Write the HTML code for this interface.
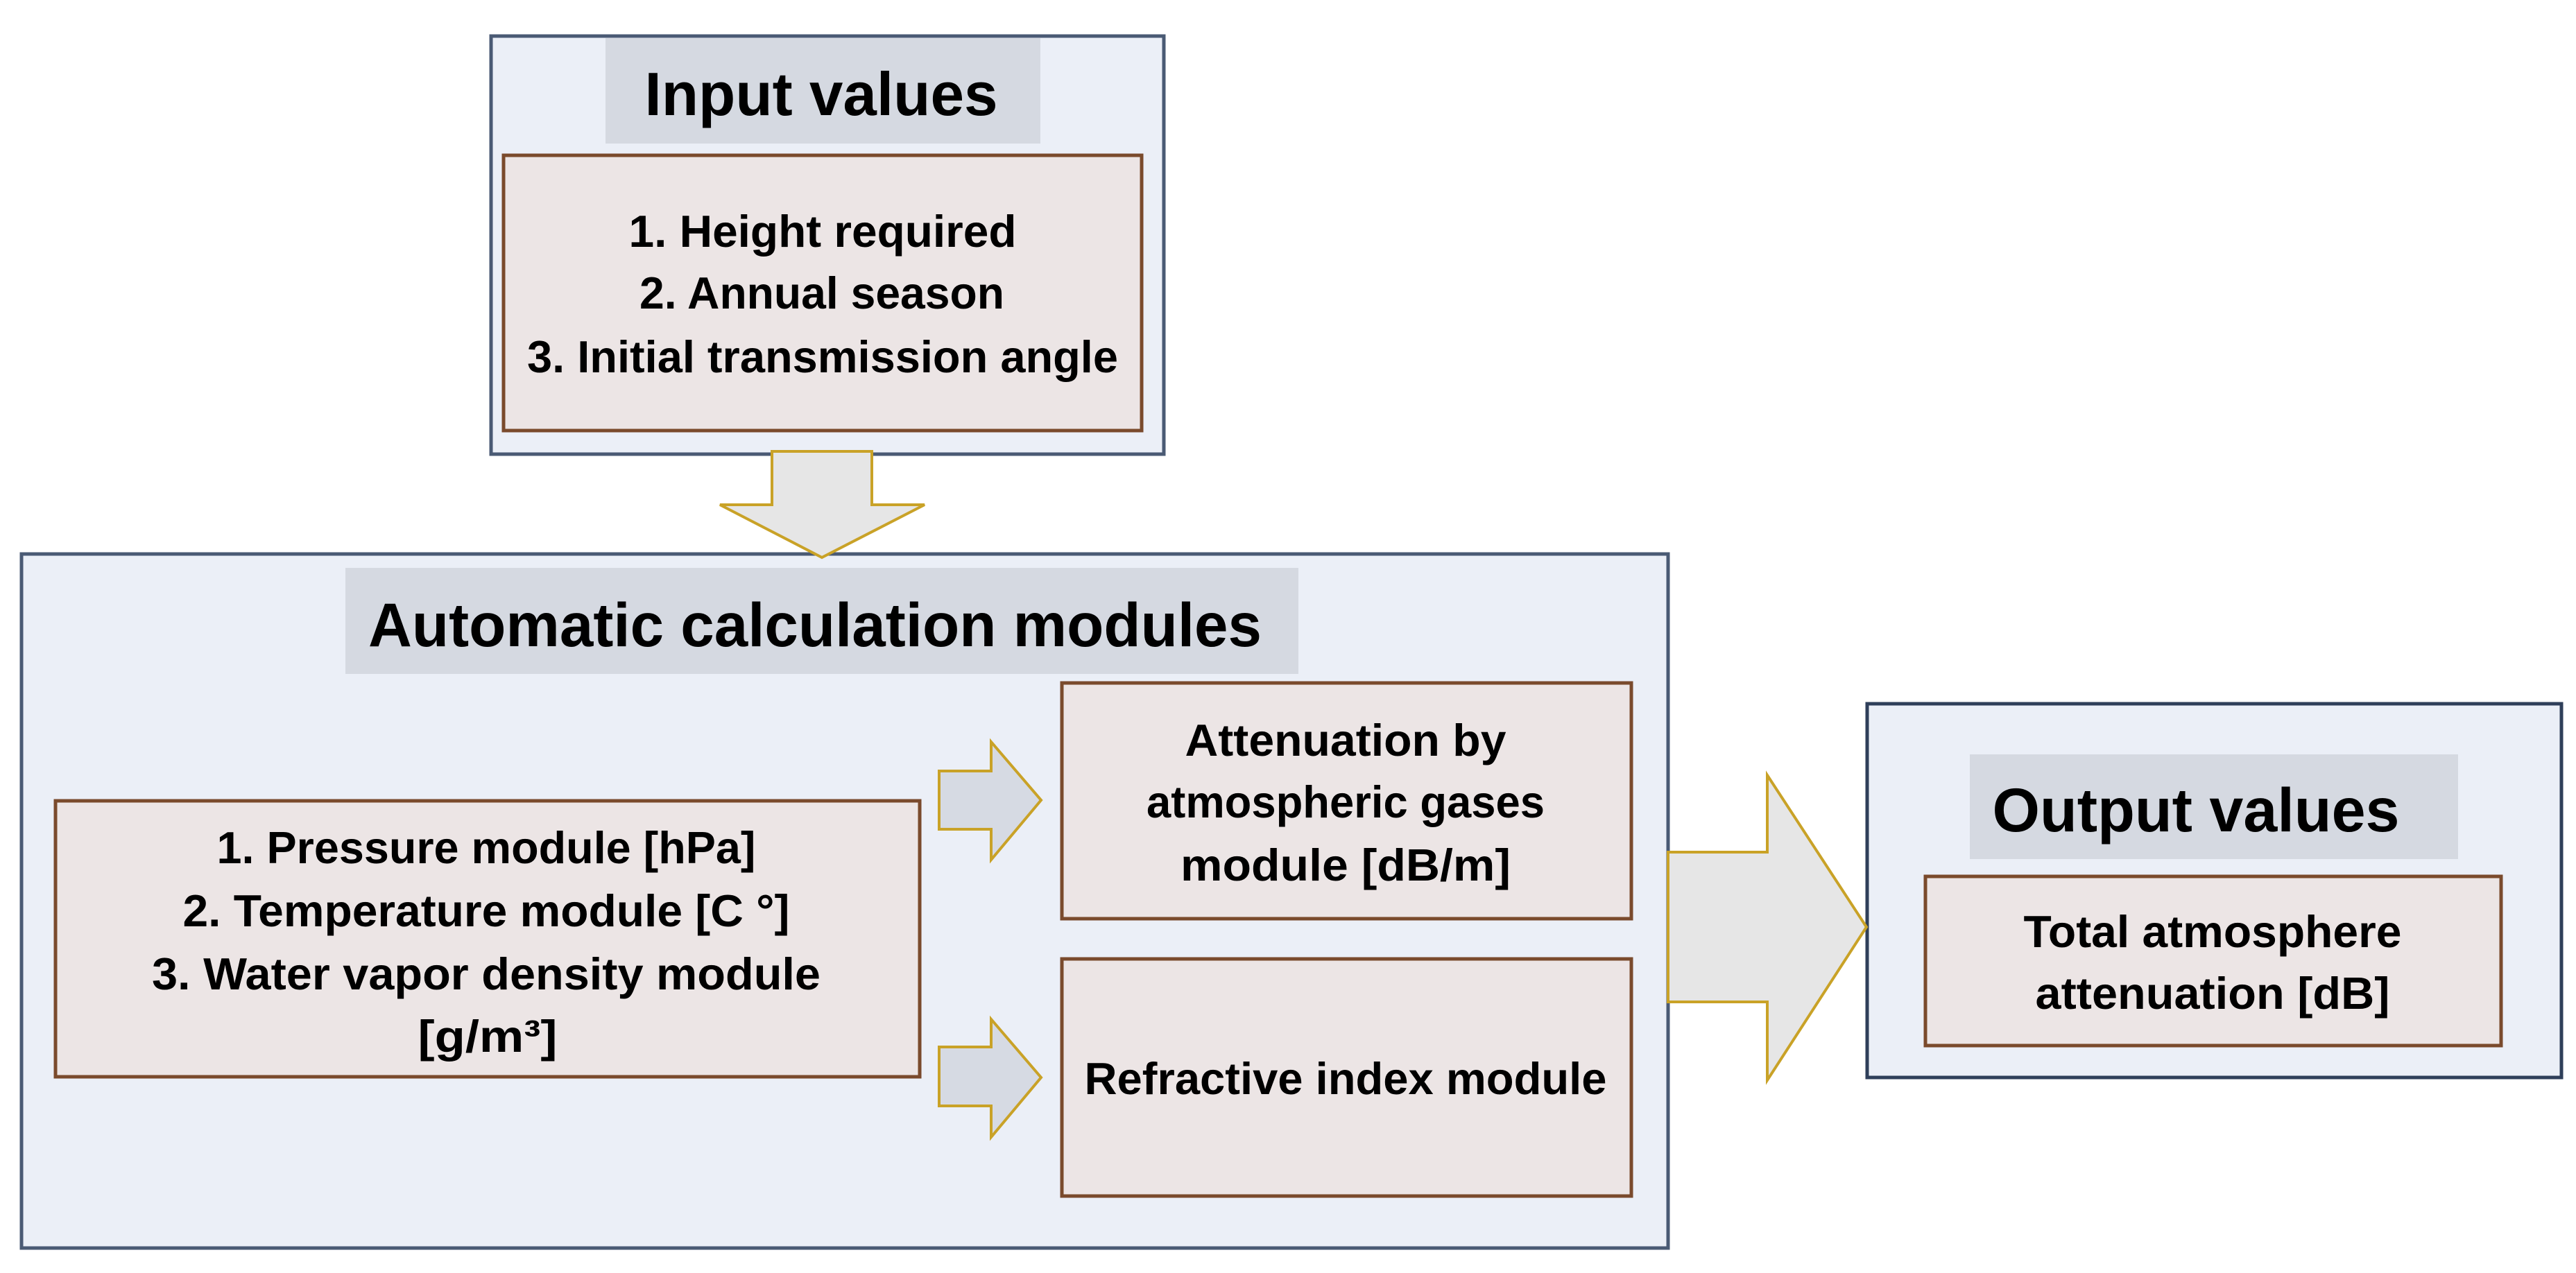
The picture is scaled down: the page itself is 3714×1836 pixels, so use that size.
<!DOCTYPE html>
<html><head><meta charset="utf-8"><style>html,body{margin:0;padding:0;background:#fff}svg{display:block}</style></head>
<body>
<svg width="3714" height="1836" viewBox="0 0 3714 1836" xmlns="http://www.w3.org/2000/svg" font-family="'Liberation Sans', sans-serif" font-weight="bold" fill="#000">
<!-- Input values -->
<rect x="708" y="52" width="970" height="603" fill="#ebeff7" stroke="#4a5a74" stroke-width="5"/>
<rect x="873" y="55" width="627" height="152" fill="#d5d9e1"/>
<rect x="726" y="224" width="920" height="397" fill="#ece5e5" stroke="#7a4a2c" stroke-width="5"/>
<text x="1184" y="166" font-size="88" text-anchor="middle" textLength="509" lengthAdjust="spacingAndGlyphs">Input values</text>
<g font-size="65" text-anchor="middle">
<text x="1186" y="356" textLength="559" lengthAdjust="spacingAndGlyphs">1. Height required</text>
<text x="1185" y="445" textLength="526" lengthAdjust="spacingAndGlyphs">2. Annual season</text>
<text x="1186" y="537" textLength="852" lengthAdjust="spacingAndGlyphs">3. Initial transmission angle</text>
</g>
<!-- Main box -->
<rect x="31" y="799" width="2374" height="1001" fill="#ebeff7" stroke="#4a5a74" stroke-width="5"/>
<!-- down arrow -->
<polygon points="1113,651 1257,651 1257,728 1333,728 1185,804 1038,728 1113,728" fill="#e6e6e6" stroke="#c9a227" stroke-width="4"/>
<rect x="498" y="819" width="1374" height="153" fill="#d5d9e1"/>
<text x="1175" y="932" font-size="89" text-anchor="middle" textLength="1288" lengthAdjust="spacingAndGlyphs">Automatic calculation modules</text>
<rect x="80" y="1155" width="1246" height="398" fill="#ece5e5" stroke="#7a4a2c" stroke-width="5"/>
<g font-size="65" text-anchor="middle">
<text x="701" y="1245" textLength="777" lengthAdjust="spacingAndGlyphs">1. Pressure module [hPa]</text>
<text x="701" y="1336" textLength="875" lengthAdjust="spacingAndGlyphs">2. Temperature module [C °]</text>
<text x="701" y="1427" textLength="964" lengthAdjust="spacingAndGlyphs">3. Water vapor density module</text>
<text x="703" y="1517" textLength="201" lengthAdjust="spacingAndGlyphs">[g/m³]</text>
</g>
<!-- small arrows -->
<polygon points="1354,1112 1429,1112 1429,1070 1501,1154 1429,1240 1429,1196 1354,1196" fill="#d6dae3" stroke="#c9a227" stroke-width="4"/>
<polygon points="1354,1510 1429,1510 1429,1470 1501,1554 1429,1640 1429,1595 1354,1595" fill="#d6dae3" stroke="#c9a227" stroke-width="4"/>
<rect x="1531" y="985" width="821" height="340" fill="#ece5e5" stroke="#7a4a2c" stroke-width="5"/>
<rect x="1531" y="1383" width="821" height="342" fill="#ece5e5" stroke="#7a4a2c" stroke-width="5"/>
<g font-size="65" text-anchor="middle">
<text x="1940" y="1090" textLength="463" lengthAdjust="spacingAndGlyphs">Attenuation by</text>
<text x="1940" y="1179" textLength="574" lengthAdjust="spacingAndGlyphs">atmospheric gases</text>
<text x="1940" y="1270" textLength="476" lengthAdjust="spacingAndGlyphs">module [dB/m]</text>
<text x="1940" y="1578" textLength="753" lengthAdjust="spacingAndGlyphs">Refractive index module</text>
</g>
<!-- Output -->
<rect x="2692" y="1015" width="1001" height="539" fill="#ebeff7" stroke="#2f3f5a" stroke-width="5"/>
<polygon points="2405,1229 2548,1229 2548,1118 2691,1337 2548,1558 2548,1445 2405,1445" fill="#e6e6e6" stroke="#c9a227" stroke-width="4"/>
<rect x="2840" y="1088" width="704" height="151" fill="#d5d9e1"/>
<text x="3166" y="1199" font-size="89" text-anchor="middle" textLength="587" lengthAdjust="spacingAndGlyphs">Output values</text>
<rect x="2776" y="1264" width="830" height="244" fill="#ece5e5" stroke="#7a4a2c" stroke-width="5"/>
<g font-size="65" text-anchor="middle">
<text x="3190" y="1366" textLength="545" lengthAdjust="spacingAndGlyphs">Total atmosphere</text>
<text x="3190" y="1455" textLength="511" lengthAdjust="spacingAndGlyphs">attenuation [dB]</text>
</g>
</svg>
</body></html>
